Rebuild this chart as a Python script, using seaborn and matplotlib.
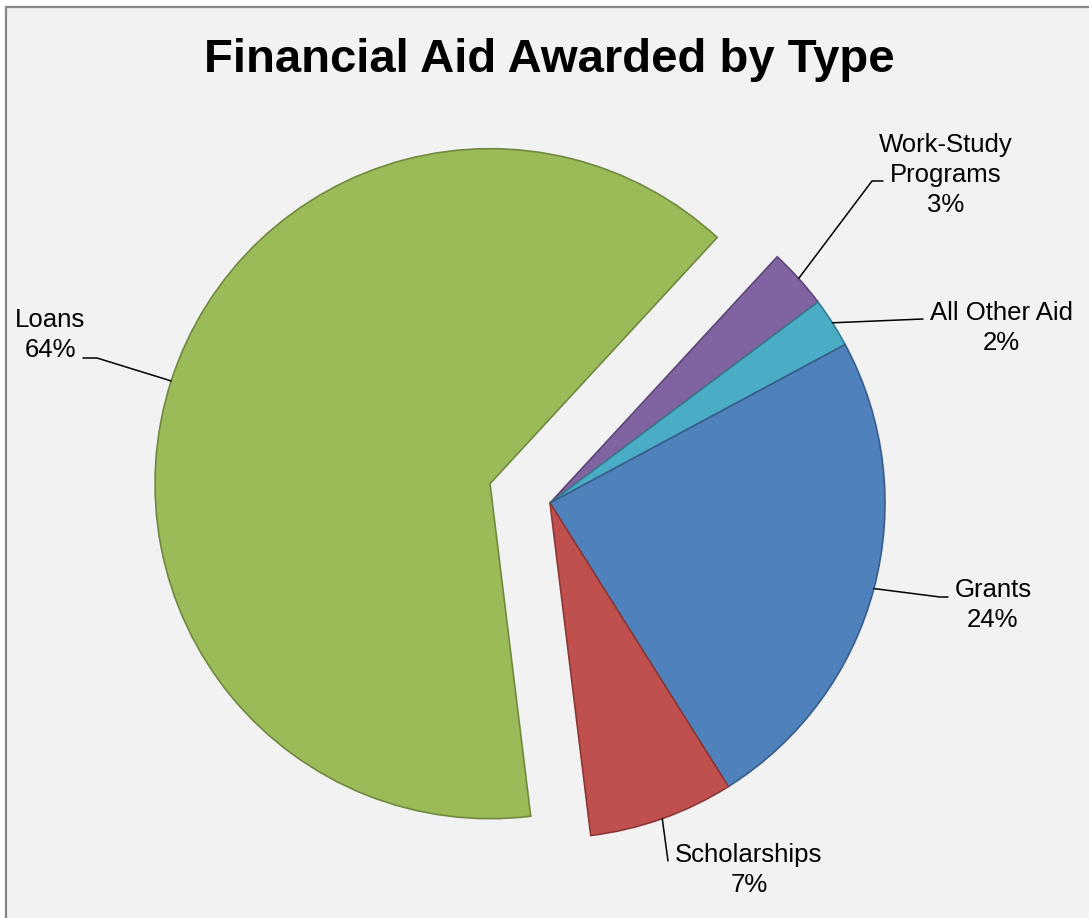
import numpy as np
import seaborn as sns
import matplotlib.pyplot as plt
from matplotlib.patches import Rectangle

# data, clockwise from the top right
categories = ["Work-Study\nPrograms", "All Other Aid", "Grants", "Scholarships", "Loans"]
shares = [2.9, 2.4, 23.9, 7.0, 63.8]
pct_labels = ["3%", "2%", "24%", "7%", "64%"]

colors = ["#8064A2", "#4BACC6", "#4F81BD", "#C0504D", "#9BBB59"]
edges = ["#5C4776", "#357D91", "#385D8A", "#8C3836", "#71893F"]

W, H = 1089, 918


def Y(y):
    # pixel row (from top) -> data y
    return H - y


sns.set_theme(style="white")
plt.rcParams['font.family'] = ['Liberation Sans', 'DejaVu Sans']

fig = plt.figure(figsize=(W / 100, H / 100), dpi=100)
fig.patch.set_facecolor("white")
ax = fig.add_axes([0, 0, 1, 1])
ax.set_facecolor("white")

# chart area (cropped on right and bottom)
ax.add_patch(Rectangle((6, -20), W + 40, Y(7) + 20, facecolor="#F2F2F2",
                       edgecolor="#878787", linewidth=1.6, zorder=0))

# explode is an absolute offset here since the axes are in pixel units
wedges, _ = ax.pie(shares, colors=colors, startangle=47.3, counterclock=False,
                   explode=[0, 0, 0, 0, 63], radius=335, center=(550, Y(503)),
                   frame=True, wedgeprops=dict(linewidth=1.2))
for w, ec in zip(wedges, edges):
    w.set_edgecolor(ec)
    w.set_zorder(2)

# label layout: text centre x, first baseline (px from top), leader path after the anchor
layout = [
    (946, 152, [(872, 181), (883, 181)]),
    (1001, 320, [(923, 319)]),
    (993, 597, [(940, 597), (948, 597)]),
    (749, 862, [(668, 861)]),
    (50, 327, [(97, 358), (83, 358)]),
]
line_gap = 30

for w, cat, pct, (tx, ty, path) in zip(wedges, categories, pct_labels, layout):
    mid = np.deg2rad((w.theta1 + w.theta2) / 2)
    ax0 = w.center[0] + w.r * np.cos(mid)
    ay0 = w.center[1] + w.r * np.sin(mid)
    xs = [ax0] + [p[0] for p in path]
    ys = [ay0] + [Y(p[1]) for p in path]
    ax.plot(xs, ys, color="black", linewidth=1.1, zorder=3)
    lines = cat.split("\n") + [pct]
    for i, s in enumerate(lines):
        ax.text(tx, Y(ty + i * line_gap), s, ha="center", va="baseline",
                fontsize=18.5, color="black", zorder=4)

ax.text(549, Y(72), "Financial Aid Awarded by Type", ha="center", va="baseline",
        fontsize=34, fontweight="bold", color="black")

ax.set_xlim(0, W)
ax.set_ylim(0, H)
ax.set_aspect("auto")
ax.axis("off")

fig.savefig("out.png", dpi=100, facecolor="white")
